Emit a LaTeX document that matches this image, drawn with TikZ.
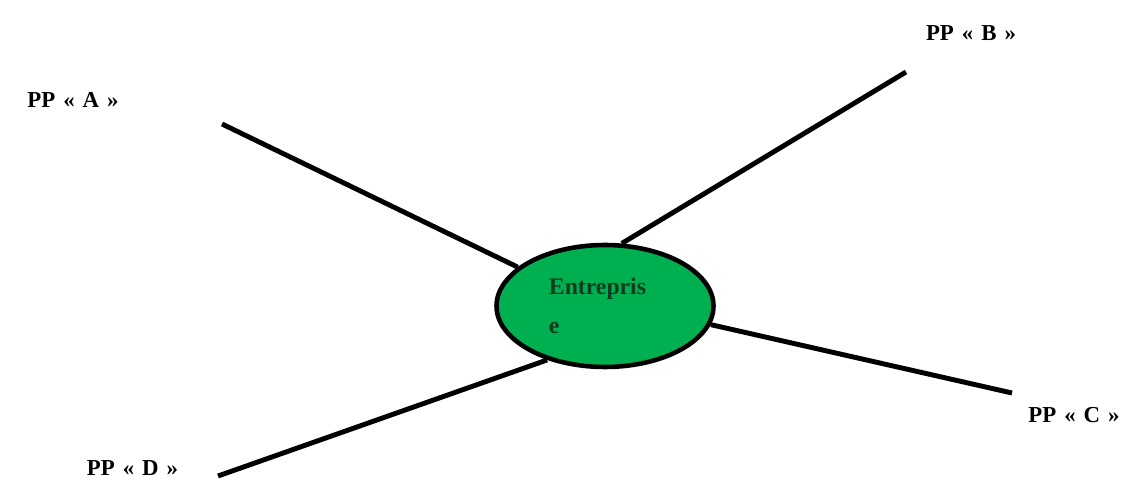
\documentclass[tikz,border=0pt]{standalone}
\usepackage{fontspec}
\setmainfont{Liberation Serif}
\newfontfamily\partyfont[WordSpace=1.4]{Liberation Serif}
\usetikzlibrary{shapes,positioning}

\definecolor{entgreen}{RGB}{0,176,80}
\definecolor{enttext}{RGB}{15,60,30}

\begin{document}
\begin{tikzpicture}[
    company/.style={ellipse, draw, line width=2.6pt, fill=entgreen, minimum width=4.34cm, minimum height=2.44cm, inner sep=0pt},
    party/.style={font=\partyfont\fontsize{13}{15}\selectfont\bfseries},
    link/.style={line width=2.8pt}
]
\useasboundingbox (0,0) rectangle (22.46,9.62);

% Company
\node[company, align=left, text=enttext, font=\fontsize{13.5}{22}\selectfont\bfseries] (ent) at (12.10,3.50) {Entrepris\rule{0.3cm}{0pt}\\e};

% Stakeholders
\node[party] (ppa) at (1.46,7.62) {PP « A »};
\node[party] (ppb) at (19.42,8.96) {PP « B »};
\node[party] (ppc) at (21.48,1.32) {PP « C »};
\node[party] (ppd) at (2.65,0.26) {PP « D »};

% Line ends
\coordinate (enda) at (4.44,7.14);
\coordinate (endb) at (18.12,8.18);
\coordinate (endc) at (20.24,1.76);
\coordinate (endd) at (4.36,0.10);

% Links
\draw[link] (enda) -- (ent.156);
\draw[link] (endb) -- (ent.75);
\draw[link] (endc) -- (ent.-10);
\draw[link] (endd) -- (ent.223);

\end{tikzpicture}
\end{document}
